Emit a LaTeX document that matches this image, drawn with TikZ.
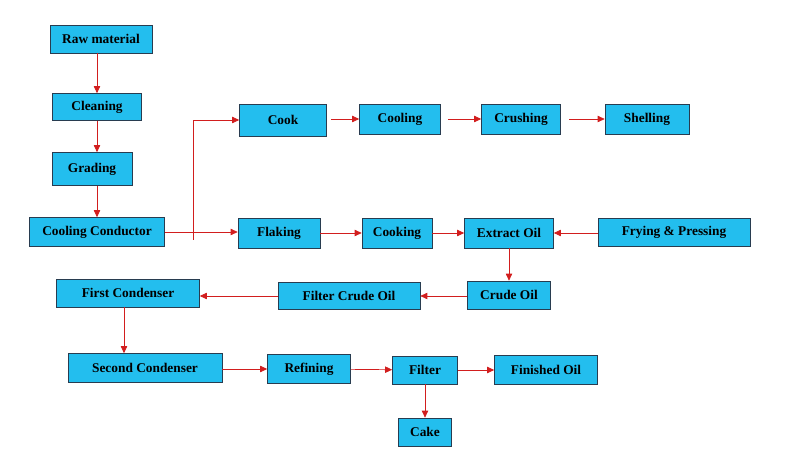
\documentclass[tikz,border=0pt]{standalone}
\usepackage{fontspec}
\setmainfont{Liberation Serif}
\usetikzlibrary{arrows.meta}
\definecolor{boxc}{RGB}{35,190,238}
\definecolor{arr}{RGB}{210,30,30}
\begin{document}
\begin{tikzpicture}[x=0.025cm,y=-0.025cm,
 bx/.style={draw={rgb,255:red,40;green,60;blue,80},fill=boxc,inner sep=0pt,font=\bfseries\fontsize{9.5}{11}\selectfont},
 ar/.style={draw=arr,-{Triangle[length=5pt,width=4.5pt]},line width=0.5pt}]
\useasboundingbox (0,0) rectangle (800,457);
\newcommand{\bxx}[6]{\node[bx,minimum width=#4*0.025cm,minimum height=#5*0.025cm] (#1) at (#2,#3) {#6};}
\bxx{raw}{101}{39}{102}{28}{Raw material}
\bxx{clean}{97}{107}{89}{27}{Cleaning}
\bxx{grade}{92}{169}{80}{33}{Grading}
\bxx{cc}{97}{232}{135}{29}{Cooling Conductor}
\bxx{cook}{283}{120}{87}{32}{Cook}
\bxx{cool}{400}{119}{81}{30}{Cooling}
\bxx{crush}{521}{119}{79}{30}{Crushing}
\bxx{shell}{647}{119}{84}{30}{Shelling}
\bxx{flake}{279}{233}{82}{30}{Flaking}
\bxx{cooking}{397}{233}{70}{30}{Cooking}
\bxx{extract}{509}{233}{89}{30}{Extract Oil}
\bxx{press}{674}{232}{152}{28}{Frying \& Pressing}
\bxx{crude}{509}{295}{83}{28}{Crude Oil}
\bxx{fco}{349}{296}{142}{27}{Filter Crude Oil}
\bxx{first}{128}{293}{143}{28}{First Condenser}
\bxx{second}{145}{368}{154}{29}{Second Condenser}
\bxx{refine}{309}{369}{83}{29}{Refining}
\bxx{filter}{425}{370}{65}{28}{Filter}
\bxx{fin}{546}{370}{103}{29}{Finished Oil}
\bxx{cake}{425}{432}{53}{28}{Cake}
\coordinate (v1) at (97,0);
\coordinate (v2) at (124,0);
\draw[ar] (raw.south -| v1) -- (clean.north -| v1);
\draw[ar] (clean.south -| v1) -- (grade.north -| v1);
\draw[ar] (grade.south -| v1) -- (cc.north -| v1);
\coordinate (j) at (193,240);
\draw[ar] (j) |- (cook);
\draw[ar] (cc.east) -- (flake.west |- cc.east);
\draw[ar] ([xshift=3pt]cook.east |- cool) -- (cool);
\draw[ar] ([xshift=5pt]cool.east) -- (crush);
\draw[ar] ([xshift=6pt]crush.east) -- (shell);
\draw[ar] (flake) -- (cooking);
\draw[ar] (cooking) -- (extract);
\draw[ar] (press.west |- extract) -- (extract);
\draw[ar] (extract) -- (crude);
\draw[ar] (crude.west |- fco) -- (fco);
\draw[ar] (fco.west -| fco.west) -- (first.east |- fco.west);
\draw[ar] (first.south -| v2) -- (second.north -| v2);
\draw[ar] (second.east |- refine) -- (refine);
\draw[ar] (refine) -- (filter);
\draw[ar] (filter) -- (fin);
\draw[ar] (filter) -- (cake);
\end{tikzpicture}
\end{document}
